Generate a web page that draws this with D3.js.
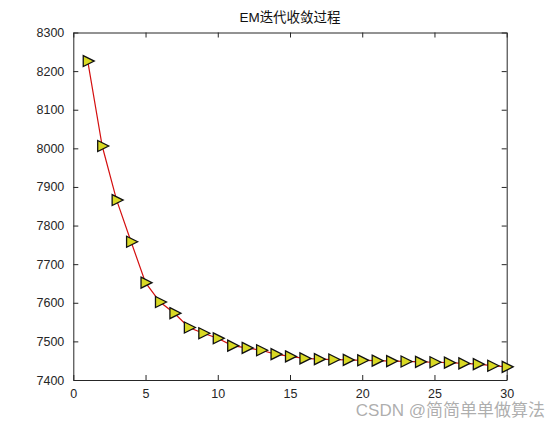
<!DOCTYPE html>
<html>
<head>
<meta charset="utf-8">
<script src="https://cdn.jsdelivr.net/npm/d3@7"></script>
<style>
  body { margin: 0; background: #fff; }
  svg text { font-family: 'Liberation Sans', Arial, sans-serif; }
</style>
</head>
<body>
<script>
// iterations and log-likelihood values
var iters = d3.range(1, 31);
var values = [8226, 8006, 7866, 7758, 7652, 7602, 7573, 7536, 7521, 7508,
              7489, 7483, 7477, 7467, 7461, 7456, 7454, 7453, 7452, 7451,
              7450, 7449, 7448, 7447, 7446, 7445, 7443, 7441, 7437, 7434];
var xTicks = [0, 5, 10, 15, 20, 25, 30];
var yTicks = [7400, 7500, 7600, 7700, 7800, 7900, 8000, 8100, 8200, 8300];

var svgwidth = 560, svgheight = 428,
    margin = { top: 32.5, right: 53.3, bottom: 48, left: 73.3 },
    width = svgwidth - margin.left - margin.right,
    height = svgheight - margin.top - margin.bottom,
    axisColor = '#262626';

var xscale = d3.scaleLinear().domain([0, 30]).range([0, width]);
var yscale = d3.scaleLinear().domain([7400, 8300]).range([height, 0]);

var svg = d3.select('body').append('svg')
    .attr('width', svgwidth)
    .attr('height', svgheight);

var g = svg.append('g')
    .attr('transform', 'translate(' + margin.left + ',' + margin.top + ')');

// box axes, ticks pointing inward (MATLAB style)
var xaxis = d3.axisBottom(xscale).tickValues(xTicks).tickFormat(d3.format('d'))
    .tickSizeInner(-5).tickSizeOuter(0).tickPadding(9);
var xaxisTop = d3.axisTop(xscale).tickValues(xTicks).tickSizeInner(-5).tickSizeOuter(0).tickFormat('');
var yaxis = d3.axisLeft(yscale).tickValues(yTicks).tickFormat(d3.format('d'))
    .tickSizeInner(-5).tickSizeOuter(0).tickPadding(9);
var yaxisRight = d3.axisRight(yscale).tickValues(yTicks).tickSizeInner(-5).tickSizeOuter(0).tickFormat('');

function style(sel) {
    sel.selectAll('path, line').attr('stroke', axisColor).attr('stroke-width', 1);
    sel.selectAll('text').attr('fill', axisColor).attr('font-size', '12.5px')
        .style('font-family', "'Liberation Sans', Arial, sans-serif");
}

g.append('g').attr('transform', 'translate(0,' + height + ')').call(xaxis).call(style);
g.append('g').call(xaxisTop).call(style);
g.append('g').call(yaxis).call(style);
g.append('g').attr('transform', 'translate(' + width + ',0)').call(yaxisRight).call(style);

// line
var line = d3.line()
    .x(function (d, i) { return xscale(iters[i]); })
    .y(function (d) { return yscale(d); });

g.append('path')
    .datum(values)
    .attr('fill', 'none')
    .attr('stroke', '#d40f0f')
    .attr('stroke-width', 1.2)
    .attr('d', line);

// right-pointing triangle markers
var tri = 'M-4.5,-5.5L6.5,0L-4.5,5.5Z';
g.selectAll('.mk')
    .data(values)
    .enter().append('path')
    .attr('class', 'mk')
    .attr('d', tri)
    .attr('transform', function (d, i) { return 'translate(' + xscale(iters[i]) + ',' + yscale(d) + ')'; })
    .attr('fill', '#d9d924')
    .attr('stroke', '#111')
    .attr('stroke-width', 1.3);

// title
svg.append('text')
    .attr('x', margin.left + width / 2)
    .attr('y', 22)
    .attr('text-anchor', 'middle')
    .attr('font-size', '13.5px')
    .attr('fill', '#111')
    .style('font-family', "'Liberation Sans', 'Noto Sans CJK SC', sans-serif")
    .text('EM迭代收敛过程');

// watermark
svg.append('text')
    .attr('x', 545)
    .attr('y', 416)
    .attr('text-anchor', 'end')
    .attr('font-size', '17px')
    .attr('fill', '#a0a0a0')
    .attr('fill-opacity', 0.85)
    .style('font-family', "'Liberation Sans', 'Noto Sans CJK SC', sans-serif")
    .text('CSDN @简简单单做算法');
</script>
</body>
</html>
